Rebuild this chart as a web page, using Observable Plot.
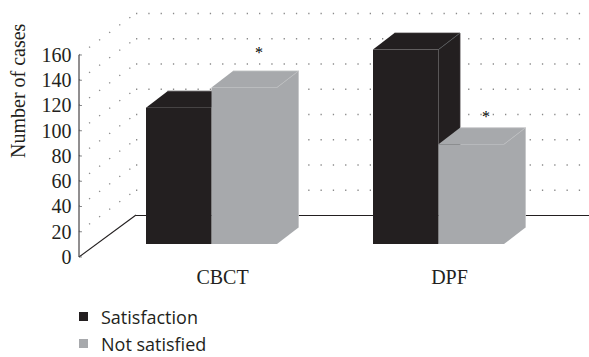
<!DOCTYPE html>
<html><head><meta charset="utf-8">
<script src="https://cdn.jsdelivr.net/npm/d3@7"></script>
<script src="https://cdn.jsdelivr.net/npm/@observablehq/plot@0.6"></script>
<style>
body{margin:0;background:#fff;}
#chart svg{display:block;}
#legend{font-family:"Open Sans",sans-serif;font-size:18px;line-height:18px;color:#231f20;padding-left:79px;}
#legend .row{display:flex;align-items:center;height:27px;}
#legend .sw{width:9px;height:9px;margin-right:13px;flex:none;}
</style></head><body>
<div id="chart"></div>
<div id="legend"></div>
<script>
// ---- data ----
const groups = ["CBCT", "DPF"];
const seriesNames = ["Satisfaction", "Not satisfied"];
const satisfaction = [108, 154];
const notSatisfied = [124, 79];
const yTicks = [0, 20, 40, 60, 80, 100, 120, 140, 160];
const sigGroups = ["CBCT", "DPF"];
const sigLevels = [129, 78];
const seriesColors = ["#231f20", "#a7a9ac"];
const yTitle = "Number of cases";

// ---- derived table ----
const rows = groups.flatMap((g, i) => [
  {group: g, series: seriesNames[0], value: satisfaction[i], k: 0},
  {group: g, series: seriesNames[1], value: notSatisfied[i], k: 1}
]);
const sigRows = sigGroups.map((g, i) => ({group: g, level: sigLevels[i]}));

// ---- 3D geometry (pixels) ----
const wall = {dx: 57, dy: -42};     // floor depth (front axis plane -> back wall)
const barFront = {dx: 0, dy: -13};  // bar front face offset from axis plane
const barDepth = {dx: 21.5, dy: -16.5};

function sideWall(index, {y}, values, dims) {
  const g = d3.create("svg:g");
  const x0 = dims.marginLeft;
  for (const v of yTicks) {
    g.append("line")
      .attr("x1", x0).attr("y1", y(v))
      .attr("x2", x0 + wall.dx).attr("y2", y(v) + wall.dy)
      .attr("stroke", v === 0 ? "#231f20" : "#8a8a8a")
      .attr("stroke-width", v === 0 ? 1.1 : 1.3)
      .attr("stroke-dasharray", v === 0 ? null : "1.3 11.2");
  }
  // axis line and small inward ticks
  g.append("line").attr("x1", x0).attr("x2", x0)
    .attr("y1", y(0)).attr("y2", y(yTicks[yTicks.length - 1]))
    .attr("stroke", "#231f20").attr("stroke-width", 1);
  for (const v of yTicks) {
    g.append("line").attr("x1", x0).attr("x2", x0 + 3)
      .attr("y1", y(v)).attr("y2", y(v))
      .attr("stroke", "#6d6e71").attr("stroke-width", 0.8);
  }
  return g.node();
}

function bars3d(k) {
  return (index, {x, y}) => {
    const g = d3.create("svg:g");
    const bw = x.bandwidth() / 2;
    const fill = seriesColors[k];
    for (const r of rows.filter(d => d.k === k)) {
      const xa = x(r.group) + r.k * bw + barFront.dx, xb = xa + bw;
      const yb = y(0) + barFront.dy, yt = y(r.value) + barFront.dy;
      const ddx = barDepth.dx, ddy = barDepth.dy;
      // right side
      g.append("polygon")
        .attr("points", [[xb, yt], [xb + ddx, yt + ddy], [xb + ddx, yb + ddy], [xb, yb]].join(" "))
        .attr("fill", fill);
      // top
      g.append("polygon")
        .attr("points", [[xa, yt], [xa + ddx, yt + ddy], [xb + ddx, yt + ddy], [xb, yt]].join(" "))
        .attr("fill", fill);
      // front
      g.append("rect").attr("x", xa).attr("y", yt).attr("width", bw).attr("height", yb - yt)
        .attr("fill", fill);
      // subtle edges
      g.append("polyline")
        .attr("points", [[xa + ddx, yt + ddy], [xb + ddx, yt + ddy], [xb + ddx, yb + ddy]].join(" "))
        .attr("fill", "none").attr("stroke", k === 0 ? "#3a3637" : "#c4c5c7").attr("stroke-width", 0.8);
      g.append("line").attr("x1", xb).attr("y1", yt).attr("x2", xb + ddx).attr("y2", yt + ddy)
        .attr("stroke", k === 0 ? "#55595c" : "#bcbec0").attr("stroke-width", 0.8);
    }
    return g.node();
  };
}

const chart = Plot.plot({
  width: 589,
  height: 295,
  marginLeft: 79,
  marginTop: 55,
  marginBottom: 38,
  marginRight: 0,
  style: {fontFamily: "'Liberation Serif', 'Times New Roman', serif", fontSize: "20px", color: "#231f20", background: "#fff"},
  x: {type: "band", domain: groups, range: [145, 504], paddingInner: 0.425, paddingOuter: 0},
  y: {domain: [0, 160]},
  marks: [
    Plot.ruleY(yTicks.slice(1), {dx: wall.dx, dy: wall.dy, stroke: "#8a8a8a", strokeWidth: 1.3, strokeDasharray: "1.3 11"}),
    Plot.ruleY([0], {dx: wall.dx, dy: wall.dy, stroke: "#231f20", strokeWidth: 1.1}),
    sideWall,
    bars3d(0),
    bars3d(1),
    Plot.text(sigRows, {x: "group", y: "level", text: () => "*", dx: 47, dy: wall.dy, fontSize: 16, fill: "black"}),
    Plot.axisY({ticks: yTicks, tickSize: 0, tickPadding: 8, label: null, fontSize: 20}),
    Plot.axisX({tickSize: 0, tickPadding: 12, dx: 10.5, label: null, fontSize: 20}),
    Plot.text([yTitle], {frameAnchor: "left", rotate: -90, dx: -61, dy: 1.5, fontSize: 20, fill: "#231f20"})
  ]
});
document.getElementById("chart").append(chart);

// ---- legend ----
const legend = d3.select("#legend").style("margin-top", "8px");
seriesNames.forEach((name, i) => {
  const row = legend.append("div").attr("class", "row");
  row.append("div").attr("class", "sw").style("background", seriesColors[i]);
  row.append("span").text(name);
});
</script>
</body></html>
